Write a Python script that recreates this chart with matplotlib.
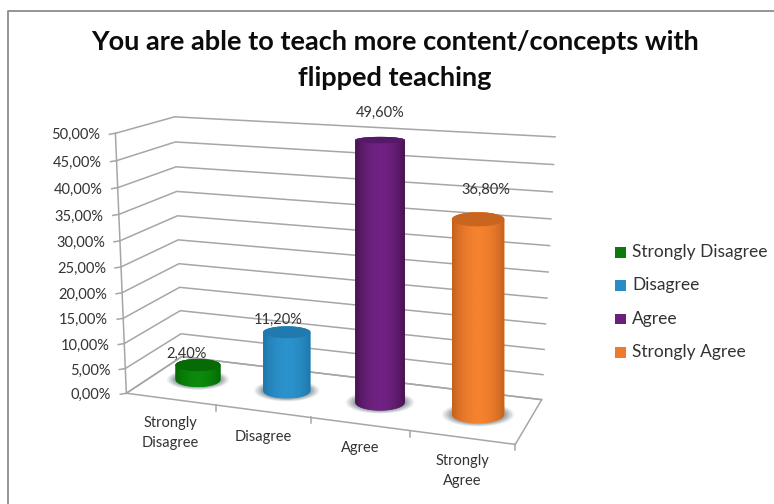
"""
Recreates the 3D cylinder chart about flipped teaching.
The scene is drawn in picture pixels through a small camera fitted to the floor and walls.
"""

import numpy as np
import matplotlib
matplotlib.use('Agg')
import matplotlib.pyplot as plt
from matplotlib.colors import LinearSegmentedColormap
from matplotlib.patches import Polygon, Rectangle

categories = ['Strongly Disagree', 'Disagree', 'Agree', 'Strongly Agree']
tick_labels = ['Strongly\nDisagree', 'Disagree', 'Agree', 'Strongly\nAgree']
values = [2.4, 11.2, 49.6, 36.8]
value_labels = ['2,40%', '11,20%', '49,60%', '36,80%']
y_ticks = [0, 5, 10, 15, 20, 25, 30, 35, 40, 45, 50]
y_tick_labels = ['0,00%', '5,00%', '10,00%', '15,00%', '20,00%', '25,00%',
                 '30,00%', '35,00%', '40,00%', '45,00%', '50,00%']
title = 'You are able to teach more content/concepts with\nflipped teaching'

side_colors = ['#0b8a0b', '#2b92cc', '#702283', '#f4822f']
dark_colors = ['#056605', '#1e75a8', '#47124f', '#c2601c']
top_colors = ['#066a06', '#217aad', '#561968', '#c8651f']
legend_colors = ['#0a7a0a', '#2a8cc4', '#6a1f7a', '#ee7a2c']

plt.rcParams['font.family'] = ['Lato', 'DejaVu Sans']
GRID = '#a6a6a6'
TEXT = '#333333'

# how flat the top of each cylinder looks, its small lift, and where its label sits
cap_squash = [0.27, 0.25, 0.13, 0.27]
cap_lift = [3, 3, 0, -1]
value_offsets = [(-11, -5), (-9, -6), (0, -24), (8, -22)]
label_offsets = [(0, 34), (0, 26), (0, 24), (0, 34)]


def fit_camera():
    # world (category, depth, percent) -> pixel, solved from the corners of the scene
    world = [(0, 0, 0), (0, 1, 0), (4, 1, 0), (4, 0, 0), (0, 0, 50), (0, 1, 50), (4, 1, 50)]
    pixel = [(127, 393), (181, 357), (542, 399), (515, 445), (115, 133), (175, 117), (555, 137)]
    rows = []
    for (a, b, c), (px, py) in zip(world, pixel):
        rows.append([a, b, c, 1, 0, 0, 0, 0, -px * a, -px * b, -px * c, -px])
        rows.append([0, 0, 0, 0, a, b, c, 1, -py * a, -py * b, -py * c, -py])
    return np.linalg.svd(np.array(rows, dtype=float))[2][-1].reshape(3, 4)


camera = fit_camera()


def project(a, b, c):
    p = camera @ np.array([a, b, c, 1.0])
    return np.array([p[0] / p[2], p[1] / p[2]])


def ellipse(center_x, center_y, half_width, squash, n=72):
    t = np.linspace(0, 2 * np.pi, n)
    return np.column_stack([center_x + half_width * np.cos(t),
                            center_y + half_width * squash * np.sin(t)])


def cylinder_shape(i, value):
    # bars stand upright in the picture, so the top keeps the x of the base
    a = i + 0.5
    foot = project(a, 0.5, 0)
    head_y = project(a, 0.5, value)[1] - cap_lift[i]
    half_width = (project(a + 0.26, 0.5, 0)[0] - project(a - 0.26, 0.5, 0)[0]) / 2
    return foot[0], foot[1], head_y, half_width


def draw_cylinder(ax, i, value):
    x, foot_y, head_y, half_width = cylinder_shape(i, value)
    base = ellipse(x, foot_y, half_width, 0.33)
    cap = ellipse(x, head_y, half_width, cap_squash[i])

    # soft shadow on the floor
    for grow, alpha in [(1.38, 0.10), (1.30, 0.16), (1.20, 0.24), (1.10, 0.30)]:
        shadow = ellipse(x, foot_y, half_width * grow, 0.33)
        ax.add_patch(Polygon(shadow, closed=True, fc='#66757e', ec='none', alpha=alpha, zorder=3))

    # body: lower half of the base plus upper half of the top, shaded across its width
    lower = base[base[:, 1] >= foot_y]
    lower = lower[np.argsort(lower[:, 0])]
    upper = cap[cap[:, 1] <= head_y]
    upper = upper[np.argsort(-upper[:, 0])]
    body = Polygon(np.vstack([lower, upper]), closed=True, fc=side_colors[i], ec='none', zorder=4)
    ax.add_patch(body)
    cmap = LinearSegmentedColormap.from_list('cyl', [dark_colors[i], side_colors[i]], N=128)
    shade = np.sin(np.linspace(0, np.pi, 128)) ** 0.8
    im = ax.imshow(shade[None, :], cmap=cmap, vmin=0, vmax=1,
                   extent=(x - half_width, x + half_width, base[:, 1].max(), cap[:, 1].min()),
                   aspect='auto', interpolation='bilinear', zorder=5)
    im.set_clip_path(body)

    ax.add_patch(Polygon(cap, closed=True, fc=top_colors[i], ec='none', zorder=6))
    return x, cap[:, 1].min()


fig = plt.figure(figsize=(7.74, 5.04), dpi=100)
ax = fig.add_axes([0, 0, 1, 1])
ax.set_xlim(0, 774)
ax.set_ylim(504, 0)
ax.axis('off')

# chart frame, open on the right and bottom of the crop
ax.plot([7.5, 7.5, 774], [504, 10.5, 10.5], color='#8c8c8c', lw=1.3)

ax.text(395, 60, title, ha='center', va='center', fontsize=19.5, fontweight='bold',
        color='#0c0c0c', linespacing=1.58)

# walls
for tick, label in zip(y_ticks, y_tick_labels):
    front = project(0, 0, tick)
    back = project(0, 1, tick)
    right = project(4, 1, tick)
    ax.plot([front[0], back[0], right[0]], [front[1], back[1], right[1]],
            color=GRID, lw=1.1, zorder=1)
    ax.plot([front[0] - 6, front[0]], [front[1] + 1, front[1]], color=GRID, lw=1.1, zorder=1)
    ax.text(front[0] - 15, front[1] + 2, label, ha='right', va='center', fontsize=10.5, color=TEXT)

bottom, top_left = project(0, 0, 0), project(0, 0, 50)
ax.plot([bottom[0], top_left[0]], [bottom[1], top_left[1]], color=GRID, lw=1.1, zorder=1)

# floor outline
floor = np.array([project(0, 0, 0), project(0, 1, 0), project(4, 1, 0), project(4, 0, 0), project(0, 0, 0)])
ax.plot(floor[:, 0], floor[:, 1], color=GRID, lw=1.1, zorder=2)

# category ticks and labels along the front edge
for i, label in enumerate(tick_labels):
    edge = project(i + 1, 0, 0)
    ax.plot([edge[0], edge[0]], [edge[1], edge[1] + 6], color=GRID, lw=1.1, zorder=2)
    mid = project(i + 0.5, 0, 0)
    dx, dy = label_offsets[i]
    ax.text(mid[0] + dx, mid[1] + dy, label, ha='center', va='center', fontsize=10.5,
            color=TEXT, linespacing=1.55)

for i, value in enumerate(values):
    x, cap_top = draw_cylinder(ax, i, value)
    dx, dy = value_offsets[i]
    ax.text(x + dx, cap_top + dy, value_labels[i], ha='center', va='center',
            fontsize=10.5, color=TEXT, zorder=8)

# the images above reset the limits
ax.set_xlim(0, 774)
ax.set_ylim(504, 0)

# legend
for i, name in enumerate(categories):
    y = 252 + i * 33.4
    ax.add_patch(Rectangle((615, y - 5), 10.5, 10.5, fc=legend_colors[i], ec='none'))
    ax.text(632, y, name, ha='left', va='center', fontsize=12.5, color=TEXT)

fig.savefig('out.png', dpi=100)
